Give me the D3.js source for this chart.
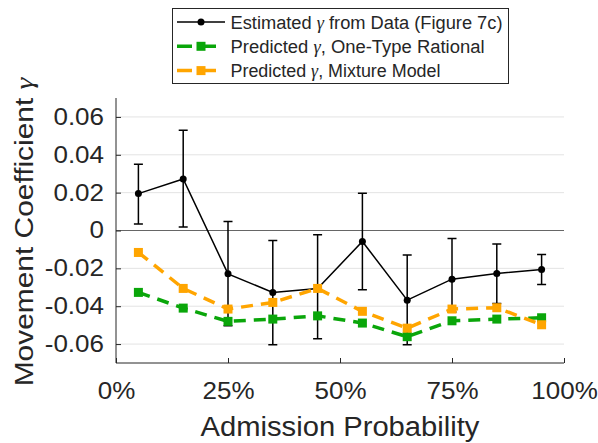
<!DOCTYPE html>
<html>
<head>
<meta charset="utf-8">
<script src="https://cdn.jsdelivr.net/npm/d3@7"></script>
<style>
  body { margin: 0; background: #fff; }
  text { font-family: "Liberation Sans", Arial, sans-serif; fill: #262626; }
</style>
</head>
<body>
<div id="chart"></div>
<script>
// Chart data
const admission = [0.05, 0.15, 0.25, 0.35, 0.45, 0.55, 0.65, 0.75, 0.85, 0.95];
const estimated = [0.0195, 0.0272, -0.0229, -0.0327, -0.0306, -0.0058, -0.0368, -0.0257, -0.0227, -0.0206];
const errUpper = [0.035, 0.0529, 0.0047, -0.0053, -0.0023, 0.0197, -0.013, -0.0042, -0.0071, -0.0127];
const errLower = [0.0035, 0.0019, -0.0503, -0.0604, -0.0572, -0.0313, -0.0604, -0.043, -0.0385, -0.0285];
const oneType = [-0.0327, -0.041, -0.048, -0.0468, -0.0451, -0.0489, -0.0561, -0.0477, -0.0468, -0.0461];
const mixture = [-0.0116, -0.0306, -0.0415, -0.038, -0.0306, -0.0427, -0.0516, -0.0415, -0.0408, -0.0498];
const yTicks = [-0.06, -0.04, -0.02, 0, 0.02, 0.04, 0.06];
const xTicks = [0, 0.25, 0.5, 0.75, 1];

const width = 598, height = 443;
const margin = { top: 98, right: 34, bottom: 80, left: 116 };
const innerW = width - margin.left - margin.right;
const innerH = height - margin.top - margin.bottom;

const green = "#0aa60a";
const orange = "#ffa500";

// the source font is wider than Liberation Sans, so widen text a bit
function stretch(sel, k) {
  sel.each(function () {
    const w = this.getComputedTextLength();
    d3.select(this).attr("textLength", w * k).attr("lengthAdjust", "spacingAndGlyphs");
  });
}

const svg = d3.select("#chart").append("svg")
  .attr("width", width)
  .attr("height", height);

const g = svg.append("g")
  .attr("transform", `translate(${margin.left}, ${margin.top})`);

const x = d3.scaleLinear().domain([0, 1]).range([0, innerW]);
const y = d3.scaleLinear().domain([-0.07, 0.07]).range([innerH, 0]);

// horizontal grid
g.append("g")
  .selectAll("line")
  .data(yTicks)
  .enter()
  .append("line")
  .attr("x1", 0)
  .attr("x2", innerW)
  .attr("y1", (d) => y(d))
  .attr("y2", (d) => y(d))
  .attr("stroke", "#e3e3e3")
  .attr("stroke-width", 1);

// zero line
g.append("line")
  .attr("x1", 0)
  .attr("x2", innerW)
  .attr("y1", y(0))
  .attr("y2", y(0))
  .attr("stroke", "#666")
  .attr("stroke-width", 1);

// axes (ticks pointing inward, like MATLAB)
const yAxis = g.append("g")
  .call(d3.axisLeft(y).tickValues(yTicks).tickSizeInner(-5).tickSizeOuter(0).tickPadding(12)
    .tickFormat((d) => (d === 0 ? "0" : d3.format(".2f")(d).replace("−", "-"))));
const xAxis = g.append("g")
  .attr("transform", `translate(0, ${innerH})`)
  .call(d3.axisBottom(x).tickValues(xTicks).tickSizeInner(-5).tickSizeOuter(0).tickPadding(20)
    .tickFormat((d) => Math.round(d * 100) + "%"));

[yAxis, xAxis].forEach((ax) => {
  ax.select(".domain").attr("stroke", "#262626");
  ax.selectAll(".tick line").attr("stroke", "#262626");
  ax.selectAll(".tick text")
    .style("font-size", "23px")
    .attr("fill", "#262626")
    .style("font-family", "Liberation Sans, Arial, sans-serif")
    .call(stretch, 1.13);
});
yAxis.select(".domain").attr("d", `M0,${innerH}V0`);
xAxis.select(".domain").attr("d", `M0,0H${innerW}`);

// axis labels
svg.append("text")
  .attr("x", margin.left + innerW / 2)
  .attr("y", 436)
  .attr("text-anchor", "middle")
  .style("font-size", "27px")
  .text("Admission Probability")
  .call(stretch, 1.08);

const yLabel = svg.append("text")
  .attr("transform", "translate(33, 232) rotate(-90)")
  .attr("text-anchor", "middle")
  .style("font-size", "26px");
yLabel.append("tspan").text("Movement Coefficient ");
yLabel.append("tspan")
  .style("font-family", "Liberation Serif, serif")
  .style("font-style", "italic")
  .text("γ");
yLabel.call(stretch, 1.15);

// estimated series with error bars
const est = admission.map((a, i) => ({ a, v: estimated[i], hi: errUpper[i], lo: errLower[i] }));
const bars = g.append("g").attr("stroke", "#000").attr("stroke-width", 1.5);
bars.selectAll(".eb")
  .data(est)
  .enter()
  .append("path")
  .attr("fill", "none")
  .attr("d", (d) => {
    const cx = x(d.a), cap = 4.5;
    return `M${cx},${y(d.hi)}V${y(d.lo)}M${cx - cap},${y(d.hi)}H${cx + cap}M${cx - cap},${y(d.lo)}H${cx + cap}`;
  });

const line = d3.line().x((d) => x(d.a)).y((d) => y(d.v));
g.append("path")
  .datum(est)
  .attr("fill", "none")
  .attr("stroke", "#000")
  .attr("stroke-width", 1.5)
  .attr("d", line);
g.selectAll(".dot")
  .data(est)
  .enter()
  .append("circle")
  .attr("cx", (d) => x(d.a))
  .attr("cy", (d) => y(d.v))
  .attr("r", 3.5)
  .attr("fill", "#000");

// predicted series
function drawPredicted(values, color) {
  const pts = admission.map((a, i) => ({ a, v: values[i] }));
  g.append("path")
    .datum(pts)
    .attr("fill", "none")
    .attr("stroke", color)
    .attr("stroke-width", 3.5)
    .attr("stroke-dasharray", "12,8")
    .attr("d", line);
  g.selectAll(null)
    .data(pts)
    .enter()
    .append("rect")
    .attr("x", (d) => x(d.a) - 4.5)
    .attr("y", (d) => y(d.v) - 4.5)
    .attr("width", 9)
    .attr("height", 9)
    .attr("fill", color);
}
drawPredicted(oneType, green);
drawPredicted(mixture, orange);

// legend
const legend = svg.append("g");
legend.append("rect")
  .attr("x", 172.5)
  .attr("y", 8.5)
  .attr("width", 336)
  .attr("height", 75)
  .attr("fill", "#fff")
  .attr("stroke", "#262626")
  .attr("stroke-width", 1);

const legendItems = [
  { label: ["Estimated ", "γ", " from Data (Figure 7c)"], color: "#000", type: "dot", w: 272 },
  { label: ["Predicted ", "γ", ", One-Type Rational"], color: green, type: "sq", w: 254 },
  { label: ["Predicted ", "γ", ", Mixture Model"], color: orange, type: "sq", w: 210 }
];
legendItems.forEach((item, i) => {
  const cy = 22 + i * 24.3;
  const row = legend.append("g");
  if (item.type === "dot") {
    row.append("line")
      .attr("x1", 177).attr("x2", 225)
      .attr("y1", cy).attr("y2", cy)
      .attr("stroke", "#000").attr("stroke-width", 1.5);
    row.append("circle")
      .attr("cx", 201).attr("cy", cy).attr("r", 3.5).attr("fill", "#000");
  } else {
    row.append("line")
      .attr("x1", 177).attr("x2", 225)
      .attr("y1", cy).attr("y2", cy)
      .attr("stroke", item.color).attr("stroke-width", 3.5)
      .attr("stroke-dasharray", "15,9");
    row.append("rect")
      .attr("x", 196.5).attr("y", cy - 4.5)
      .attr("width", 9).attr("height", 9)
      .attr("fill", item.color);
  }
  const t = row.append("text")
    .attr("x", 230.5)
    .attr("y", cy + 6.5)
    .style("font-size", "18px")
    .attr("fill", "#000");
  t.append("tspan").text(item.label[0]);
  t.append("tspan")
    .style("font-family", "Liberation Serif, serif")
    .style("font-style", "italic")
    .text(item.label[1]);
  t.append("tspan").text(item.label[2]);
  t.attr("textLength", item.w).attr("lengthAdjust", "spacingAndGlyphs");
});
</script>
</body>
</html>
